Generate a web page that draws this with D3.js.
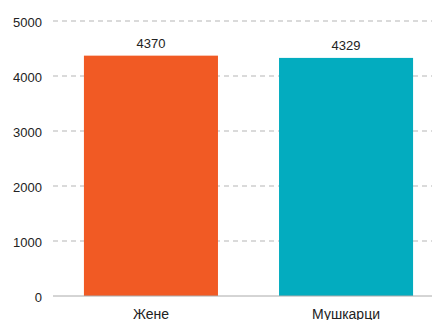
<!DOCTYPE html>
<html><head><meta charset="utf-8">
<script src="https://cdn.jsdelivr.net/npm/d3@7"></script>
<style>body{margin:0;background:#fff}svg{display:block}text{font-family:"Liberation Sans",Arial,sans-serif}</style>
</head><body>
<svg id="c" width="432" height="320"></svg>
<script>
const categories = ["Жене", "Мушкарци"];
const values = [4370, 4329];
const colors = ["#f15a24", "#03acbf"];
const yTicks = [0, 1000, 2000, 3000, 4000, 5000];

const svg = d3.select("#c");
const x = d3.scaleBand().domain(categories).range([53.5, 443.5]).paddingInner(0.313).paddingOuter(0.156);
const y = d3.scaleLinear().domain([0, 5000]).range([296, 21]);

const grid = svg.append("g");
yTicks.filter(t => t > 0).forEach(t => {
  grid.append("line").attr("x1", 53).attr("x2", 432).attr("y1", y(t)).attr("y2", y(t))
    .attr("stroke", "#b5b5b5").attr("stroke-width", 1).attr("stroke-dasharray", "5,4");
});

svg.selectAll("rect.bar").data(values).enter().append("rect")
  .attr("x", (d, i) => x(categories[i])).attr("width", x.bandwidth())
  .attr("y", d => y(d)).attr("height", d => y(0) - y(d))
  .attr("fill", (d, i) => colors[i]);

svg.append("line").attr("x1", 53).attr("x2", 432).attr("y1", y(0)).attr("y2", y(0))
  .attr("stroke", "#aaa").attr("stroke-width", 1);

const yAxis = svg.append("g").attr("transform", "translate(53,0)")
  .call(d3.axisLeft(y).tickValues(yTicks).tickSize(0).tickPadding(11).tickFormat(d3.format("d")));
yAxis.select(".domain").remove();
yAxis.selectAll("text").attr("font-size", 13).attr("dy", "0.4em").attr("fill", "#222");

svg.selectAll("text.val").data(values).enter().append("text")
  .attr("x", (d, i) => x(categories[i]) + x.bandwidth() / 2).attr("y", d => y(d) - 8)
  .attr("text-anchor", "middle").attr("font-size", 13).attr("fill", "#222").text(d => d);

const xAxis = svg.append("g").attr("transform", "translate(0,296)")
  .call(d3.axisBottom(x).tickSize(0).tickPadding(13));
xAxis.select(".domain").remove();
xAxis.selectAll("text").attr("font-size", 14).attr("fill", "#222");
</script>
</body></html>
